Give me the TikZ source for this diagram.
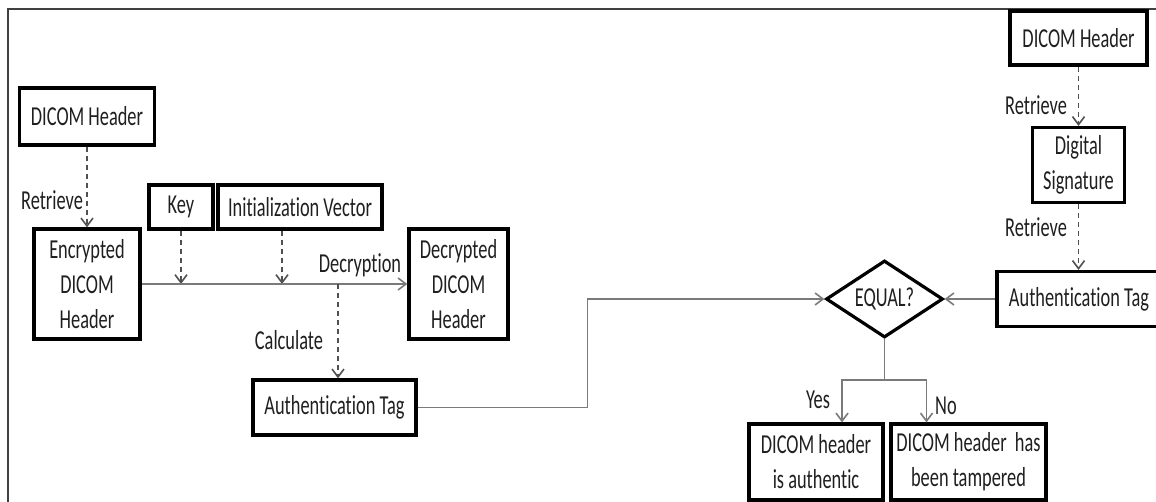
\documentclass[tikz,border=0pt]{standalone}
\usepackage{fontspec}
\setmainfont[FakeStretch=0.67, Ligatures=NoCommon]{Carlito}
\usetikzlibrary{arrows.meta,shapes.geometric}
\definecolor{FlowInk}{HTML}{1F1F1F}
\definecolor{FlowLine}{HTML}{7A7A7A}
\definecolor{FlowDash}{HTML}{505050}

\begin{document}
\begin{tikzpicture}[x=0.5pt, y=-0.5pt,
    every node/.style={font=\fontsize{13.7}{17.5}\selectfont, text=FlowInk},
    box/.style={draw=black, line width=1.6pt, inner sep=0pt, align=center},
    conn/.style={-{Straight Barb[length=4pt,width=6pt]}, line width=0.8pt, FlowLine},
    dconn/.style={conn, FlowDash, dash pattern=on 2.5pt off 2pt}]
    \useasboundingbox (0,0) rectangle (1156,502);
    \draw[line width=0.8pt, black!75] (8,520) -- (8,9) -- (1170,9);

    % decryption side
    \node[box, minimum width=67.5pt, minimum height=28.5pt] (hdrL) at (87,116.5) {DICOM Header};
    \node[box, minimum width=53pt, minimum height=55pt] (enc) at (87,284) {Encrypted\\DICOM\\Header};
    \node[box, minimum width=32pt, minimum height=22pt] (key) at (181,207) {Key};
    \node[box, minimum width=82pt, minimum height=22pt] (iv) at (300,207) {Initialization Vector};
    \node[box, minimum width=49.5pt, minimum height=55pt] (dec) at (458.5,284) {Decrypted\\DICOM\\Header};
    \node[box, minimum width=81.5pt, minimum height=27.5pt] (tagL) at (334.5,407.5) {Authentication Tag};

    % verification side
    \node[box, minimum width=68.5pt, minimum height=27pt] (hdrR) at (1078.5,38) {DICOM Header};
    \node[box, minimum width=46pt, minimum height=37.5pt] (sig) at (1078.5,165) {Digital\\Signature};
    \node[box, minimum width=82pt, minimum height=27.5pt] (tagR) at (1079,299) {Authentication Tag};
    \node[box, diamond, aspect=1.5, minimum width=58.5pt, minimum height=38.5pt] (equal) at (884.5,299) {EQUAL?};
    \node[box, minimum width=67pt, minimum height=38pt] (auth) at (816,462) {DICOM header\\is authentic};
    \node[box, minimum width=77.5pt, minimum height=38pt] (tamp) at (968.5,462) {DICOM header~ has\\been tampered};

    \node (retL) at (52,200) {Retrieve};
    \node (decr) at (360,265) {Decryption};
    \node (calc) at (289,340) {Calculate};
    \node (retR1) at (1036,105) {Retrieve};
    \node (retR2) at (1036,227) {Retrieve};
    \node (yes) at (818,400) {Yes};
    \node (no) at (946,406) {No};

    \coordinate (calcout) at (338,284);
    \coordinate (split) at (884.5,380);

    \draw[dconn] (hdrL) -- (enc);
    \draw[dconn] (key.south) -- (key.south |- enc.east);
    \draw[dconn] ([xshift=-9pt]iv.south) -- ([xshift=-9pt]iv.south |- enc.east);
    \draw[conn] (enc.east) -- (dec.west);
    \draw[dconn] (calcout) -- (calcout |- tagL.north);
    \draw[conn] (tagL.east) -- ++(170,0) |- (equal.west);

    \draw[dconn] (hdrR) -- (sig);
    \draw[dconn] (sig.south) -- (sig.south |- tagR.north);
    \draw[conn] (tagR.west) -- (equal.east);
    \draw[conn, arrows=-] (equal.south) -- (split);
    \draw[conn] (split) -| ([xshift=13pt]auth.north);
    \draw[conn] (split) -| ([xshift=-21pt]tamp.north);
\end{tikzpicture}
\end{document}
